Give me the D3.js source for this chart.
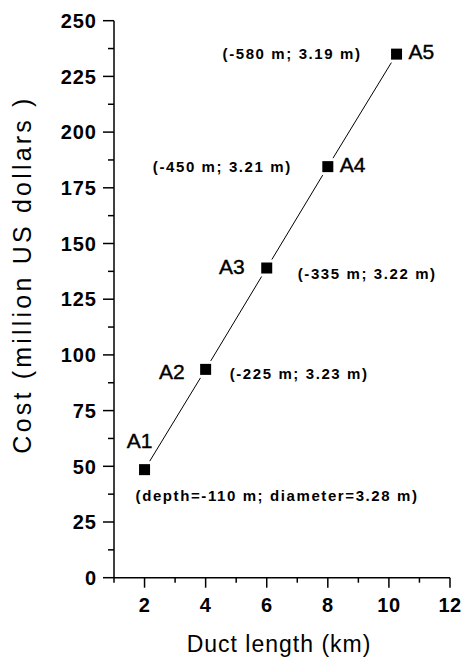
<!DOCTYPE html>
<html>
<head>
<meta charset="utf-8">
<script src="https://cdn.jsdelivr.net/npm/d3@7"></script>
<style>
  body { margin: 0; background: #fff; }
  svg { display: block; font-family: Arial, "Liberation Sans", sans-serif; }
</style>
</head>
<body>
<svg id="chart"></svg>
<script>
// Data
const names = ["A1", "A2", "A3", "A4", "A5"];
const ductLength = [2, 4, 6, 8, 10.25];
const cost = [48.5, 93.5, 139, 184.5, 235];
const notes = [
  "(depth=-110 m; diameter=3.28 m)",
  "(-225 m; 3.23 m)",
  "(-335 m; 3.22 m)",
  "(-450 m; 3.21 m)",
  "(-580 m; 3.19 m)",
];
const xTicks = [2, 4, 6, 8, 10, 12];
const yTicks = [0, 25, 50, 75, 100, 125, 150, 175, 200, 225, 250];

// label placement relative to each marker (layout only)
const nameOffsets = [
  { dx: -5, dy: -22, anchor: "middle" },
  { dx: -21, dy: 10, anchor: "end" },
  { dx: -22, dy: 6, anchor: "end" },
  { dx: 12, dy: 5, anchor: "start" },
  { dx: 12, dy: 5, anchor: "start" },
];
const noteOffsets = [
  { dx: -9, dy: 31, anchor: "start" },
  { dx: 24, dy: 10, anchor: "start" },
  { dx: 31, dy: 11, anchor: "start" },
  { dx: -36, dy: 5, anchor: "end" },
  { dx: -35, dy: 5, anchor: "end" },
];

const W = 463, H = 657;
const svg = d3.select("#chart").attr("width", W).attr("height", H);

const x = d3.scaleLinear().domain([1, 12]).range([114, 450]);
const y = d3.scaleLinear().domain([0, 250]).range([577.7, 20.7]);

const points = names.map((n, i) => ({ name: n, x: ductLength[i], y: cost[i], note: notes[i] }));

// x axis
const xAxis = svg.append("g").attr("transform", `translate(0,${y(0)})`);
xAxis.append("line").attr("x1", x(1)).attr("x2", x(12)).attr("stroke", "#000").attr("stroke-width", 1.5);
xAxis.selectAll(".minor").data(d3.range(1, 13)).join("line")
  .attr("x1", (d) => x(d)).attr("x2", (d) => x(d))
  .attr("y1", 0).attr("y2", (d) => (d % 2 === 0 ? 10 : 5))
  .attr("stroke", "#000").attr("stroke-width", 1.5);
xAxis.selectAll("text").data(xTicks).join("text")
  .attr("x", (d) => x(d)).attr("y", 34)
  .attr("text-anchor", "middle")
  .attr("font-size", "20px").attr("font-weight", "bold")
  .attr("letter-spacing", "0.5px")
  .text((d) => d);

// y axis
const yAxis = svg.append("g").attr("transform", `translate(${x(1)},0)`);
yAxis.append("line").attr("y1", y(0)).attr("y2", y(250)).attr("stroke", "#000").attr("stroke-width", 1.5);
yAxis.selectAll(".tick").data(d3.range(0, 251, 12.5)).join("line")
  .attr("y1", (d) => y(d)).attr("y2", (d) => y(d))
  .attr("x1", (d) => (d % 25 === 0 ? -11 : -6)).attr("x2", 0)
  .attr("stroke", "#000").attr("stroke-width", 1.5);
yAxis.selectAll("text").data(yTicks).join("text")
  .attr("x", -17).attr("y", (d) => y(d)).attr("dy", "0.36em")
  .attr("text-anchor", "end")
  .attr("font-size", "20px").attr("font-weight", "bold")
  .attr("letter-spacing", "1px")
  .text((d) => d);

// axis titles
svg.append("text")
  .attr("x", 279).attr("y", 652)
  .attr("text-anchor", "middle")
  .attr("font-size", "23px").attr("letter-spacing", "1px")
  .text("Duct length (km)");

svg.append("text")
  .attr("transform", `translate(31,${(89 + 460) / 2}) rotate(-90)`)
  .attr("text-anchor", "middle")
  .attr("font-size", "25px").attr("letter-spacing", "3.2px")
  .text("Cost (million US dollars )");

// line through the points
svg.append("path")
  .datum(points)
  .attr("d", d3.line().x((d) => x(d.x)).y((d) => y(d.y)))
  .attr("fill", "none").attr("stroke", "#000").attr("stroke-width", 1);

// markers, with a white halo so the line stops short of them
svg.append("g").selectAll("rect").data(points).join("rect")
  .attr("x", (d) => x(d.x) - 8.5).attr("y", (d) => y(d.y) - 8.5)
  .attr("width", 17).attr("height", 17).attr("fill", "#fff");
svg.append("g").selectAll("rect").data(points).join("rect")
  .attr("x", (d) => x(d.x) - 5.5).attr("y", (d) => y(d.y) - 5.5)
  .attr("width", 11).attr("height", 11).attr("fill", "#000");

// point names
svg.append("g").selectAll("text").data(points).join("text")
  .attr("x", (d, i) => x(d.x) + nameOffsets[i].dx)
  .attr("y", (d, i) => y(d.y) + nameOffsets[i].dy)
  .attr("text-anchor", (d, i) => nameOffsets[i].anchor)
  .attr("font-size", "21px")
  .attr("stroke", "#000").attr("stroke-width", 0.4)
  .text((d) => d.name);

// depth / diameter notes
svg.append("g").selectAll("text").data(points).join("text")
  .attr("x", (d, i) => x(d.x) + noteOffsets[i].dx)
  .attr("y", (d, i) => y(d.y) + noteOffsets[i].dy)
  .attr("text-anchor", (d, i) => noteOffsets[i].anchor)
  .attr("font-size", "15px").attr("font-weight", "bold")
  .attr("letter-spacing", "1.6px")
  .text((d) => d.note);
</script>
</body>
</html>
